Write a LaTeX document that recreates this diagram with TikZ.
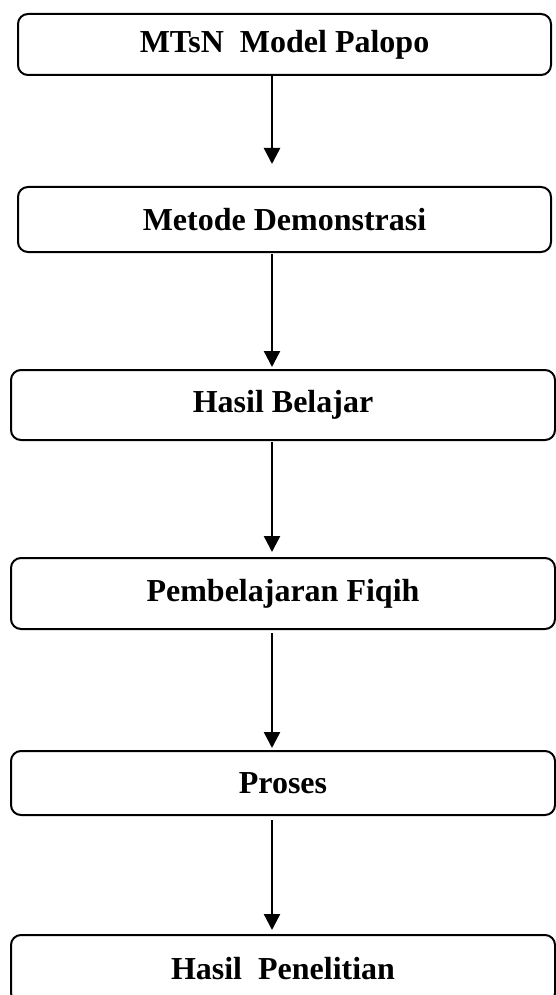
\documentclass[tikz,border=0pt]{standalone}
\usepackage{fontspec}
\setmainfont{Liberation Serif}
\usetikzlibrary{shapes.geometric, arrows.meta, positioning}
\tikzstyle{process} = [rectangle, rounded corners=10pt, text centered, draw=black, line width=2pt, outer sep=0pt, fill=white, font=\fontsize{32}{38}\selectfont\bfseries]
\tikzstyle{arrow} = [line width=2.4pt, -{Triangle[width=16pt,length=16pt]}]

\begin{document}
\begin{tikzpicture}[node distance=118pt]
		\useasboundingbox (0,0) rectangle (556pt,-995pt);
		\node (mtsn) [process, minimum width=533pt, minimum height=61pt] at (284.5pt,-44.5pt) {MTsN\ \ Model Palopo};
		\node (metode) [process, minimum width=533pt, minimum height=65pt, below=112pt of mtsn] {Metode Demonstrasi};
		\node (hasil) [process, minimum width=544pt, minimum height=70pt, below=of metode, xshift=-1.5pt] {Hasil Belajar};
		\node (fiqih) [process, minimum width=544pt, minimum height=71pt, below=of hasil] {Pembelajaran Fiqih};
		\node (proses) [process, minimum width=544pt, minimum height=64pt, below=122pt of fiqih] {Proses};
		\node (penelitian) [process, minimum width=544pt, minimum height=68pt, below=120pt of proses] {Hasil\ \ Penelitian};

		\draw [arrow, shorten >=23pt] ([xshift=-12.5pt]mtsn.south) -- ([xshift=-12.5pt]metode.north);
		\draw [arrow, shorten <=2pt, shorten >=3pt] ([xshift=-12.5pt]metode.south) -- ([xshift=-11pt]hasil.north);
		\draw [arrow, shorten <=2pt, shorten >=6pt] ([xshift=-11pt]hasil.south) -- ([xshift=-11pt]fiqih.north);
		\draw [arrow, shorten <=4pt, shorten >=3pt] ([xshift=-11pt]fiqih.south) -- ([xshift=-11pt]proses.north);
		\draw [arrow, shorten <=5pt, shorten >=5pt] ([xshift=-11pt]proses.south) -- ([xshift=-11pt]penelitian.north);
	\end{tikzpicture}
\end{document}
